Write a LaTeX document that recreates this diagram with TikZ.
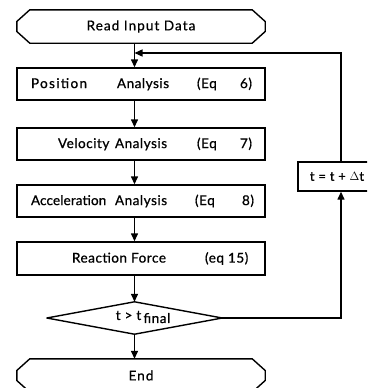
\documentclass[tikz,border=0pt]{standalone}
\usepackage{fontspec}
\setmainfont[LetterSpace=4,FakeBold=0.8]{Lato}
\usetikzlibrary{arrows.meta}
\newcommand{\putat}[2]{\makebox[0pt][l]{\hspace*{#1}#2}}
\tikzset{
  box/.style={draw, line width=1.4pt, rectangle, minimum width=248pt, minimum height=32pt, inner sep=0pt, font=\fontsize{13.5}{15}\selectfont},
  term/.style={rectangle, minimum width=248pt, minimum height=33pt, inner sep=0pt, font=\fontsize{13.5}{15}\selectfont\addfontfeature{LetterSpace=8}},
  outline/.style={draw, line width=1.4pt, line join=round},
  arr/.style={line width=1.4pt, -{Triangle[length=8pt,width=7pt]}}
}
\begin{document}
\begin{tikzpicture}[x=1pt,y=-1pt]
\useasboundingbox (0,0) rectangle (367,388);
\clip (0,0) rectangle (367,388);
% start
\node[term] (rd) at (141,26.5) {Read Input Data};
\draw[outline] ([xshift=13pt]rd.north west) -- ([xshift=-13pt]rd.north east) -- ([yshift=5pt]rd.east) -- ([yshift=-5pt]rd.east) -- ([xshift=-13pt]rd.south east) -- ([xshift=13pt]rd.south west) -- ([yshift=-5pt]rd.west) -- ([yshift=5pt]rd.west) -- cycle;
% boxes
\node[box] (pos) at (141,84) {\makebox[226pt][l]{\putat{3pt}{\addfontfeature{LetterSpace=10}Position}\putat{89pt}{Analysis}\putat{169pt}{(Eq}\putat{212pt}{6)}}};
\node[box] (vel) at (141,144) {\makebox[226pt][l]{\putat{30pt}{Velocity}\putat{87pt}{Analysis}\putat{169pt}{(Eq}\putat{212pt}{7)}}};
\node[box] (acc) at (141,201) {\makebox[226pt][l]{\putat{3pt}{\addfontfeature{LetterSpace=1}Acceleration}\putat{87pt}{Analysis}\putat{167pt}{(Eq}\putat{214pt}{8)}}};
\node[box, minimum height=33pt] (rf) at (141,258.5) {\makebox[226pt][l]{\putat{44pt}{Reaction Force}\putat{177pt}{(eq 15)}}};
% decision
\node[rectangle, minimum width=175pt, minimum height=32pt, inner sep=0pt] (dia) at (134.5,318) {};
\draw[outline] (dia.west) -- (dia.north) -- (dia.east) -- (dia.south) -- cycle;
\node[font=\fontsize{13.5}{15}\selectfont, inner sep=0pt] (dtxt) at (143,317) {t > t\,\raisebox{-3pt}{final}};
% end
\node[term] (en) at (141,375.5) {End};
\draw[outline] ([xshift=13pt]en.north west) -- ([xshift=-13pt]en.north east) -- ([yshift=5pt]en.east) -- ([yshift=-5pt]en.east) -- ([xshift=-13pt]en.south east) -- ([xshift=13pt]en.south west) -- ([yshift=-5pt]en.west) -- ([yshift=5pt]en.west) -- cycle;
% feedback box
\node[draw, line width=1.4pt, rectangle, minimum width=78pt, minimum height=29pt, inner sep=0pt, font=\fontsize{13}{15}\selectfont] (tb) at (337,176.5) {t = t + $\Delta$t};
% main flow
\draw[arr] (rd.south -| dia.north) -- (pos.north -| dia.north);
\draw[arr] (pos.south -| dia.north) -- (vel.north -| dia.north);
\draw[arr] (vel.south -| dia.north) -- (acc.north -| dia.north);
\draw[arr] (acc.south -| dia.north) -- (rf.north -| dia.north);
\draw[arr] (rf.south -| dia.north) -- (dia.north);
\draw[arr] (dia.south) -- (en.north -| dia.south);
% loop
\coordinate (lp) at (341,53);
\coordinate (join) at (134.5,53);
\draw[arr] (dia.east) -| (tb.south -| lp);
\draw[arr] (tb.north -| lp) -- (lp) -- (join);
\end{tikzpicture}
\end{document}
